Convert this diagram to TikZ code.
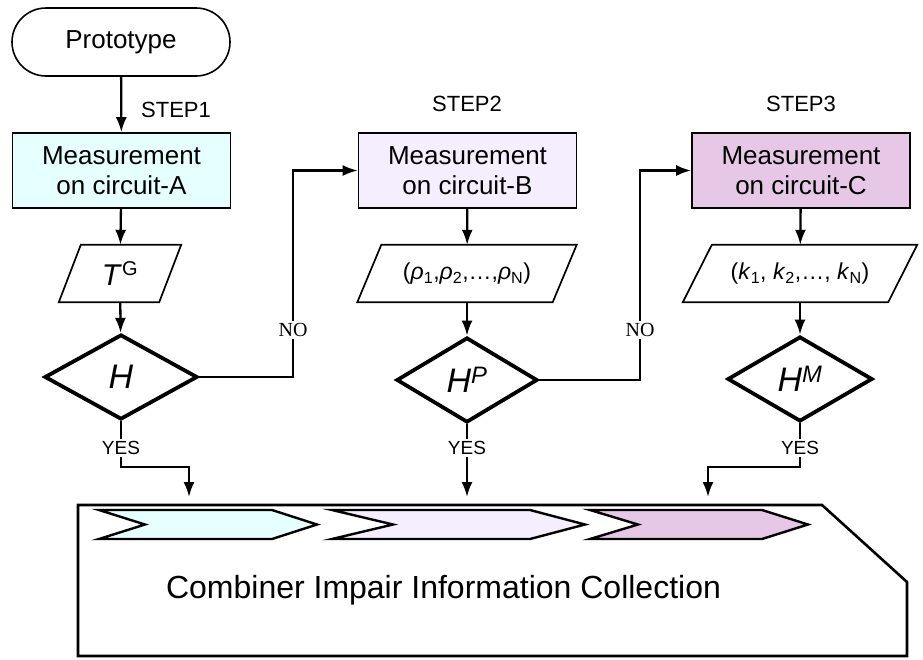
\documentclass[tikz,border=0pt]{standalone}
\usepackage{fontspec}
\setmainfont{Liberation Sans}
\newfontfamily\nofont{Liberation Serif}
\usetikzlibrary{arrows.meta,shapes.geometric}
\definecolor{fillA}{HTML}{E6FFFF}
\definecolor{fillB}{HTML}{F5EEFF}
\definecolor{fillC}{HTML}{E6C8E6}
\begin{document}
\begin{tikzpicture}[x=1pt,y=-1pt,
  arr/.style={line width=2.3pt,-{Latex[length=15pt,width=11pt]}},
  ln/.style={line width=2.3pt},
  term/.style={draw, line width=1.6pt, rounded corners=34pt, minimum width=218pt, minimum height=68pt, inner sep=0pt, font=\fontsize{26}{29}\selectfont},
  proc/.style={draw, line width=1.6pt, minimum width=218pt, minimum height=75pt, align=center, inner sep=0pt, font=\fontsize{26}{30}\selectfont},
  dec/.style={diamond, draw, line width=3.8pt, minimum height=85pt, inner sep=0pt, font=\fontsize{34}{34}\selectfont\itshape},
  io/.style={minimum height=57pt, inner sep=0pt, font=\fontsize{23}{23}\selectfont},
  iopath/.style={line width=1.7pt},
  steplbl/.style={font=\fontsize{22}{22}\selectfont},
  nolbl/.style={font=\nofont\fontsize{20}{20}\selectfont, fill=white, inner sep=2pt},
  yeslbl/.style={font=\fontsize{19}{19}\selectfont, inner sep=2pt},
  chev/.style={line width=2.4pt, line join=miter},
]
\useasboundingbox (0,0) rectangle (923,659);

% top
\node[term] (proto) at (121,42) {Prototype};
\node[steplbl] (s1) at (176,110) {STEP1};
\node[steplbl] (s2) at (467,104) {STEP2};
\node[steplbl] (s3) at (801,104) {STEP3};

% process boxes
\node[proc, fill=fillA] (boxA) at (121.5,170.5) {Measurement\\on circuit-A};
\node[proc, fill=fillB] (boxB) at (467.5,170.5) {Measurement\\on circuit-B};
\node[proc, fill=fillC] (boxC) at (801,170.5) {Measurement\\on circuit-C};

% data parallelograms
\node[io, minimum width=100pt] (pA) at (120,273.5) {\fontsize{30}{30}\selectfont\textit{T}\textsuperscript{\fontsize{20}{20}\selectfont G}};
\draw[iopath] ([xshift=11pt]pA.north west) -- ([xshift=11pt]pA.north east) -- ([xshift=-11pt]pA.south east) -- ([xshift=-11pt]pA.south west) -- cycle;
\node[io, minimum width=195pt] (pB) at (467,273.5) {(\textit{ρ}\textsubscript{1},\textit{ρ}\textsubscript{2},…,\textit{ρ}\textsubscript{N})};
\draw[iopath] ([xshift=12pt]pB.north west) -- ([xshift=12pt]pB.north east) -- ([xshift=-12pt]pB.south east) -- ([xshift=-12pt]pB.south west) -- cycle;
\node[io, minimum width=205pt] (pC) at (800,273.5) {(\textit{k}\textsubscript{1}, \textit{k}\textsubscript{2},…, \textit{k}\textsubscript{N})};
\draw[iopath] ([xshift=14.5pt]pC.north west) -- ([xshift=14.5pt]pC.north east) -- ([xshift=-14.5pt]pC.south east) -- ([xshift=-14.5pt]pC.south west) -- cycle;

% decisions
\node[dec, minimum width=153pt] (dA) at (121,377) {H};
\node[dec, minimum width=141pt] (dB) at (467,380) {H\textsuperscript{P}};
\node[dec, minimum width=145pt] (dC) at (800,379) {H\textsuperscript{M}};

% vertical flow
\draw[arr] (proto) -- (boxA);
\draw[arr] (boxA) -- (pA);
\draw[arr] (pA) -- (dA);
\draw[arr] (boxB) -- (pB);
\draw[arr] (pB) -- (dB);
\draw[arr] (boxC) -- (pC);
\draw[arr] (pC) -- (dC);

% NO branches
\coordinate (nA) at (293,300);
\coordinate (nB) at (640,300);
\draw[arr] (dA.east) -| (nA) |- (boxB.west);
\draw[arr] (dB.east) -| (nB) |- (boxC.west);
\node[nolbl] (noA) at (293,330) {NO};
\node[nolbl] (noB) at (640,330) {NO};

% YES branches
\node[yeslbl] (yA) at (121,448) {YES};
\node[yeslbl] (yB) at (467,448) {YES};
\node[yeslbl] (yC) at (800,448) {YES};
\draw[ln] (dA.south) -- (yA.north);
\draw[ln] (dB.south) -- (yB.north);
\draw[ln] (dC.south) -- (yC.north);
\coordinate (kA) at (189,467);
\coordinate (tA) at (189,497);
\coordinate (tB) at (467,497);
\coordinate (kC) at (708,467);
\coordinate (tC) at (708,497);
\draw[arr] (yA.south) |- (kA) -- (tA);
\draw[arr] (yB.south) -- (tB);
\draw[arr] (yC.south) |- (kC) -- (tC);

% collection box
\draw[line width=2.6pt, line join=miter] (78,505) -- (822,505) -- (907,582) -- (907,656) -- (78,656) -- cycle;
\draw[chev, fill=fillA] (99,510) -- (272,510) -- (317,524.5) -- (272,539) -- (99,539) -- (145,524.5) -- cycle;
\draw[chev, fill=fillB] (332,510) -- (530,510) -- (585,524.5) -- (530,539) -- (332,539) -- (393,524.5) -- cycle;
\draw[chev, fill=fillC] (590,510) -- (762,510) -- (808,524.5) -- (762,539) -- (590,539) -- (638,524.5) -- cycle;
\node[anchor=base, font=\fontsize{32}{32}\selectfont, inner sep=0pt] (coll) at (443.5,598) {Combiner Impair Information Collection};
\end{tikzpicture}
\end{document}
